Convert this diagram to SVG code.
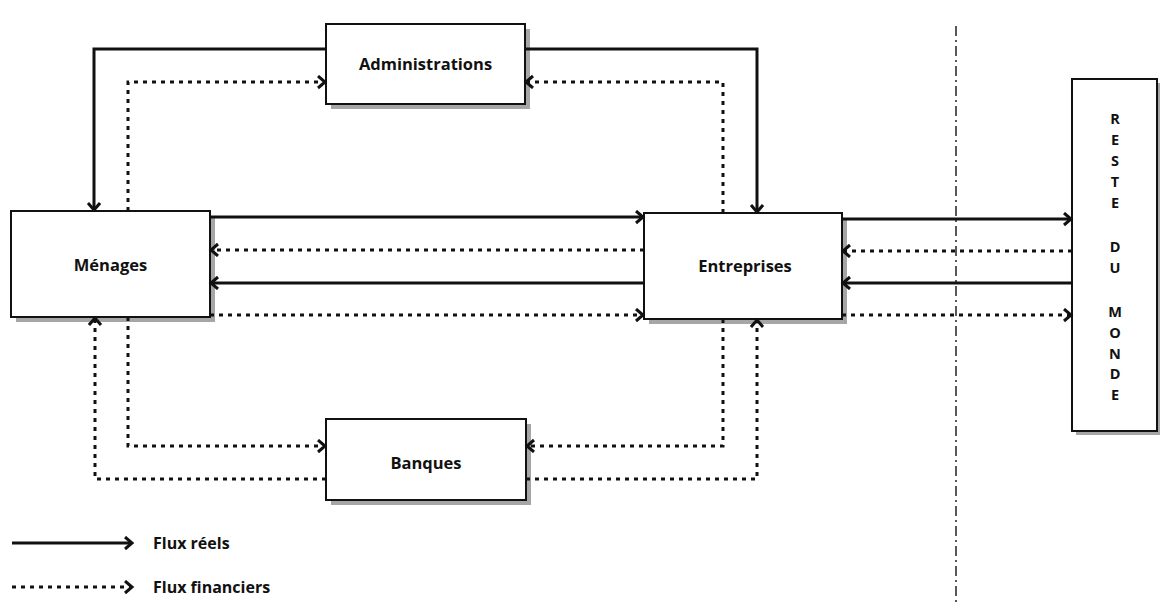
<svg xmlns="http://www.w3.org/2000/svg" width="1160" height="610" viewBox="0 0 1160 610">
<style>
.box{fill:#fff;stroke:#111;stroke-width:2}
.shadow{fill:#a6a6a6}
.lbl{font-family:"Open Sans","Liberation Sans",sans-serif;font-weight:bold;font-size:16.5px;fill:#111;text-anchor:middle}
.vl{font-family:"Open Sans","Liberation Sans",sans-serif;font-weight:bold;font-size:14.5px;fill:#111;text-anchor:middle}
.leg{font-family:"Open Sans","Liberation Sans",sans-serif;font-weight:bold;font-size:16px;fill:#111}
.real{fill:none;stroke:#111;stroke-width:3;marker-end:url(#ah)}
.fin{fill:none;stroke:#111;stroke-width:3;stroke-dasharray:4 5;marker-end:url(#ah)}
.axis{fill:none;stroke:#222;stroke-width:1.5;stroke-dasharray:10 4 2 4}
</style>
<defs>
<marker id="ah" markerUnits="userSpaceOnUse" markerWidth="14" markerHeight="16" refX="9" refY="7" orient="auto">
<path d="M2,1 L9,7 L2,13" fill="none" stroke="#111" stroke-width="3"/>
</marker>
</defs>
<line class="axis" x1="956" y1="26" x2="956" y2="602"/>
<g id="administrations">
<rect class="shadow" x="331" y="29" width="199" height="80"/>
<rect class="box" x="326" y="24" width="199" height="80"/>
<text class="lbl" x="425.500" y="70">Administrations</text>
</g>
<g id="menages">
<rect class="shadow" x="16" y="216" width="199" height="106"/>
<rect class="box" x="11" y="211" width="199" height="106"/>
<text class="lbl" x="110.500" y="271">Ménages</text>
</g>
<g id="entreprises">
<rect class="shadow" x="649" y="218" width="198" height="106"/>
<rect class="box" x="644" y="213" width="198" height="106"/>
<text class="lbl" x="745" y="272">Entreprises</text>
</g>
<g id="banques">
<rect class="shadow" x="331" y="424" width="200" height="81"/>
<rect class="box" x="326" y="419" width="200" height="81"/>
<text class="lbl" x="426" y="469">Banques</text>
</g>
<g id="reste-du-monde">
<rect class="shadow" x="1076" y="83" width="84" height="352"/>
<rect class="box" x="1072" y="79" width="85" height="352"/>
<g class="vl">
<text x="1115" y="124">R</text>
<text x="1115" y="145">E</text>
<text x="1115" y="166">S</text>
<text x="1115" y="186.500">T</text>
<text x="1115" y="207.500">E</text>
<text x="1115" y="252">D</text>
<text x="1115" y="273">U</text>
<text x="1115" y="317">M</text>
<text x="1115" y="337.500">O</text>
<text x="1115" y="358.500">N</text>
<text x="1115" y="379">D</text>
<text x="1115" y="399.500">E</text>
</g>
</g>
<g id="connectors">
<path class="real" d="M326,49 H94 V210"/>
<path class="fin" d="M128,211 V82 H325"/>
<path class="real" d="M525,49 H757 V212"/>
<path class="fin" d="M723,213 V82 H526"/>
<path class="real" d="M210,217 H643"/>
<path class="fin" d="M644,250 H211"/>
<path class="real" d="M644,283 H211"/>
<path class="fin" d="M210,315 H643"/>
<path class="real" d="M842,219 H1071"/>
<path class="fin" d="M1072,251 H843"/>
<path class="real" d="M1072,283 H843"/>
<path class="fin" d="M842,315 H1071"/>
<path class="fin" d="M128,317 V446 H325"/>
<path class="fin" d="M326,479 H95 V318"/>
<path class="fin" d="M723,319 V446 H527"/>
<path class="fin" d="M526,479 H757 V320"/>
</g>
<g id="legend">
<path class="real" d="M12,543 H132"/>
<text class="leg" x="153" y="549">Flux réels</text>
<path class="fin" d="M12,587 H132"/>
<text class="leg" x="153" y="593">Flux financiers</text>
</g>
</svg>
